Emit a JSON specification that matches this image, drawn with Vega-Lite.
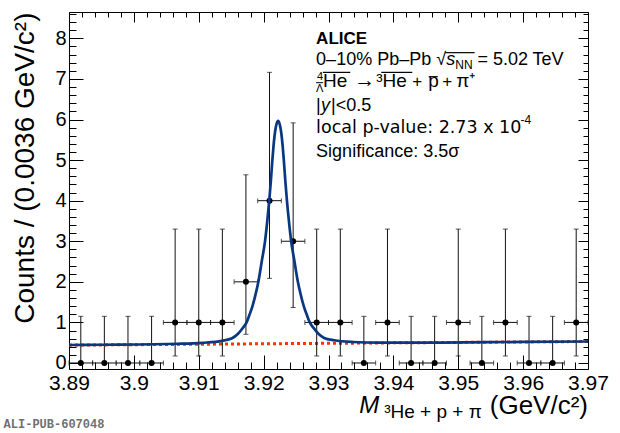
{
  "$schema": "https://vega.github.io/schema/vega-lite/v6.json",
  "width": 519,
  "height": 357,
  "autosize": "none",
  "padding": {"left": 69, "top": 12, "right": 32, "bottom": 64},
  "background": "white",
  "config": {
    "view": {"stroke": "black", "strokeWidth": 1},
    "font": "Liberation Sans",
    "axis": {
      "domain": false,
      "grid": false,
      "labelFont": "Liberation Sans",
      "labelFontSize": 20,
      "labelColor": "black",
      "tickColor": "black",
      "tickWidth": 1,
      "titleFont": "Liberation Sans",
      "titleFontWeight": "normal",
      "titleColor": "black"
    }
  },
  "datasets": {
    "pts": [
      {"x": 3.89182, "xlo": 3.89, "xhi": 3.89364, "n": 0, "lo": 0, "hi": 1.15},
      {"x": 3.89545, "xlo": 3.89364, "xhi": 3.89727, "n": 0, "lo": 0, "hi": 1.15},
      {"x": 3.89909, "xlo": 3.89727, "xhi": 3.90091, "n": 0, "lo": 0, "hi": 1.15},
      {"x": 3.90273, "xlo": 3.90091, "xhi": 3.90455, "n": 0, "lo": 0, "hi": 1.15},
      {"x": 3.90636, "xlo": 3.90455, "xhi": 3.90818, "n": 1, "lo": 0.173, "hi": 3.3},
      {"x": 3.91, "xlo": 3.90818, "xhi": 3.91182, "n": 1, "lo": 0.173, "hi": 3.3},
      {"x": 3.91364, "xlo": 3.91182, "xhi": 3.91545, "n": 1, "lo": 0.173, "hi": 3.3},
      {"x": 3.91727, "xlo": 3.91545, "xhi": 3.91909, "n": 2, "lo": 0.708, "hi": 4.638},
      {"x": 3.92091, "xlo": 3.91909, "xhi": 3.92273, "n": 4, "lo": 2.086, "hi": 7.163},
      {"x": 3.92455, "xlo": 3.92273, "xhi": 3.92636, "n": 3, "lo": 1.367, "hi": 5.918},
      {"x": 3.92818, "xlo": 3.92636, "xhi": 3.93, "n": 1, "lo": 0.173, "hi": 3.3},
      {"x": 3.93182, "xlo": 3.93, "xhi": 3.93364, "n": 1, "lo": 0.173, "hi": 3.3},
      {"x": 3.93545, "xlo": 3.93364, "xhi": 3.93727, "n": 0, "lo": 0, "hi": 1.15},
      {"x": 3.93909, "xlo": 3.93727, "xhi": 3.94091, "n": 1, "lo": 0.173, "hi": 3.3},
      {"x": 3.94273, "xlo": 3.94091, "xhi": 3.94455, "n": 0, "lo": 0, "hi": 1.15},
      {"x": 3.94636, "xlo": 3.94455, "xhi": 3.94818, "n": 0, "lo": 0, "hi": 1.15},
      {"x": 3.95, "xlo": 3.94818, "xhi": 3.95182, "n": 1, "lo": 0.173, "hi": 3.3},
      {"x": 3.95364, "xlo": 3.95182, "xhi": 3.95545, "n": 0, "lo": 0, "hi": 1.15},
      {"x": 3.95727, "xlo": 3.95545, "xhi": 3.95909, "n": 1, "lo": 0.173, "hi": 3.3},
      {"x": 3.96091, "xlo": 3.95909, "xhi": 3.96273, "n": 0, "lo": 0, "hi": 1.15},
      {"x": 3.96455, "xlo": 3.96273, "xhi": 3.96636, "n": 0, "lo": 0, "hi": 1.15},
      {"x": 3.96818, "xlo": 3.96636, "xhi": 3.97, "n": 1, "lo": 0.173, "hi": 3.3}
    ],
    "fit": [
      {"x": 3.89, "y": 0.443},
      {"x": 3.895, "y": 0.45},
      {"x": 3.90683, "y": 0.474},
      {"x": 3.91063, "y": 0.498},
      {"x": 3.91358, "y": 0.546},
      {"x": 3.91513, "y": 0.608},
      {"x": 3.91605, "y": 0.719},
      {"x": 3.91673, "y": 0.85},
      {"x": 3.91737, "y": 1.001},
      {"x": 3.91778, "y": 1.171},
      {"x": 3.91825, "y": 1.382},
      {"x": 3.91873, "y": 1.672},
      {"x": 3.91919, "y": 2.003},
      {"x": 3.91973, "y": 2.523},
      {"x": 3.92022, "y": 3.004},
      {"x": 3.92058, "y": 3.524},
      {"x": 3.92087, "y": 4.005},
      {"x": 3.92111, "y": 4.475},
      {"x": 3.92135, "y": 5.005},
      {"x": 3.92153, "y": 5.355},
      {"x": 3.92177, "y": 5.705},
      {"x": 3.922, "y": 5.896},
      {"x": 3.92223, "y": 5.966},
      {"x": 3.92246, "y": 5.896},
      {"x": 3.92269, "y": 5.706},
      {"x": 3.92293, "y": 5.356},
      {"x": 3.92311, "y": 5.006},
      {"x": 3.92335, "y": 4.476},
      {"x": 3.92359, "y": 4.006},
      {"x": 3.92388, "y": 3.526},
      {"x": 3.92424, "y": 3.006},
      {"x": 3.92473, "y": 2.526},
      {"x": 3.92527, "y": 2.006},
      {"x": 3.92573, "y": 1.677},
      {"x": 3.92621, "y": 1.387},
      {"x": 3.92668, "y": 1.177},
      {"x": 3.92709, "y": 1.007},
      {"x": 3.92773, "y": 0.858},
      {"x": 3.92841, "y": 0.727},
      {"x": 3.92933, "y": 0.617},
      {"x": 3.93088, "y": 0.56},
      {"x": 3.93383, "y": 0.518},
      {"x": 3.93763, "y": 0.502},
      {"x": 3.94723, "y": 0.503},
      {"x": 3.96, "y": 0.52},
      {"x": 3.97, "y": 0.53}
    ],
    "bkg": [
      {"x": 3.89, "y": 0.44},
      {"x": 3.97, "y": 0.53}
    ]
  },
  "resolve": {"axis": {"x": "independent", "y": "independent"}},
  "layer": [
    {
      "data": {"name": "pts"},
      "mark": {"type": "point", "opacity": 0},
      "encoding": {
        "x": {
          "field": "x", "type": "quantitative",
          "scale": {"domain": [3.89, 3.97], "nice": false, "zero": false},
          "axis": {"orient": "bottom", "values": [3.89, 3.9, 3.91, 3.92, 3.93, 3.94, 3.95, 3.96, 3.97], "format": ".2~f", "tickSize": -14, "labelPadding": 17, "labelFontSize": 21, "labelFlush": false, "labelOverlap": false, "labelBound": false, "title": null}
        },
        "y": {
          "field": "n", "type": "quantitative",
          "scale": {"domain": [-0.148, 8.65], "nice": false, "zero": false},
          "axis": {"orient": "left", "values": [0, 1, 2, 3, 4, 5, 6, 7, 8], "format": "d", "tickSize": -14, "labelPadding": 17, "labelOverlap": false, "title": "Counts / (0.0036 GeV/c²)", "titleFontSize": 28, "titleAnchor": "end", "titlePadding": 15}
        }
      }
    },
    {
      "data": {"name": "pts"},
      "mark": {"type": "point", "opacity": 0},
      "encoding": {
        "x": {"field": "x", "type": "quantitative", "axis": {"orient": "bottom", "values": [3.892, 3.894, 3.896, 3.898, 3.902, 3.904, 3.906, 3.908, 3.912, 3.914, 3.916, 3.918, 3.922, 3.924, 3.926, 3.928, 3.932, 3.934, 3.936, 3.938, 3.942, 3.944, 3.946, 3.948, 3.952, 3.954, 3.956, 3.958, 3.962, 3.964, 3.966, 3.968], "tickSize": -7, "labels": false, "title": null}},
        "y": {"field": "n", "type": "quantitative", "axis": {"orient": "left", "values": [0.2, 0.4, 0.6, 0.8, 1.2, 1.4, 1.6, 1.8, 2.2, 2.4, 2.6, 2.8, 3.2, 3.4, 3.6, 3.8, 4.2, 4.4, 4.6, 4.8, 5.2, 5.4, 5.6, 5.8, 6.2, 6.4, 6.6, 6.8, 7.2, 7.4, 7.6, 7.8, 8.2, 8.4, 8.6], "tickSize": -7, "labels": false, "title": null}}
      }
    },
    {
      "data": {"name": "pts"},
      "mark": {"type": "point", "opacity": 0},
      "encoding": {
        "x": {"field": "x", "type": "quantitative", "axis": {"orient": "top", "values": [3.89, 3.9, 3.91, 3.92, 3.93, 3.94, 3.95, 3.96, 3.97], "tickSize": -10, "labels": false, "title": null}},
        "y": {"field": "n", "type": "quantitative", "axis": {"orient": "right", "values": [0, 1, 2, 3, 4, 5, 6, 7, 8], "tickSize": -10, "labels": false, "title": null}}
      }
    },
    {
      "data": {"name": "pts"},
      "mark": {"type": "point", "opacity": 0},
      "encoding": {
        "x": {"field": "x", "type": "quantitative", "axis": {"orient": "top", "values": [3.892, 3.894, 3.896, 3.898, 3.902, 3.904, 3.906, 3.908, 3.912, 3.914, 3.916, 3.918, 3.922, 3.924, 3.926, 3.928, 3.932, 3.934, 3.936, 3.938, 3.942, 3.944, 3.946, 3.948, 3.952, 3.954, 3.956, 3.958, 3.962, 3.964, 3.966, 3.968], "tickSize": -5, "labels": false, "title": null}},
        "y": {"field": "n", "type": "quantitative", "axis": {"orient": "right", "values": [0.2, 0.4, 0.6, 0.8, 1.2, 1.4, 1.6, 1.8, 2.2, 2.4, 2.6, 2.8, 3.2, 3.4, 3.6, 3.8, 4.2, 4.4, 4.6, 4.8, 5.2, 5.4, 5.6, 5.8, 6.2, 6.4, 6.6, 6.8, 7.2, 7.4, 7.6, 7.8, 8.2, 8.4, 8.6], "tickSize": -5, "labels": false, "title": null}}
      }
    },
    {
      "data": {"name": "bkg"},
      "mark": {"type": "line", "color": "#ff3300", "strokeWidth": 3, "strokeDash": [3, 3]},
      "encoding": {
        "x": {"field": "x", "type": "quantitative", "axis": null},
        "y": {"field": "y", "type": "quantitative", "axis": null}
      }
    },
    {
      "data": {"name": "pts"},
      "mark": {"type": "errorbar", "color": "#111111", "thickness": 1, "ticks": {"size": 5}},
      "encoding": {
        "x": {"field": "x", "type": "quantitative", "axis": null},
        "y": {"field": "lo", "type": "quantitative", "axis": null},
        "y2": {"field": "hi"}
      }
    },
    {
      "data": {"name": "pts"},
      "mark": {"type": "errorbar", "color": "#111111", "thickness": 1, "ticks": {"size": 5}},
      "encoding": {
        "y": {"field": "n", "type": "quantitative", "axis": null},
        "x": {"field": "xlo", "type": "quantitative", "axis": null},
        "x2": {"field": "xhi"}
      }
    },
    {
      "data": {"name": "pts"},
      "mark": {"type": "circle", "color": "black", "opacity": 1, "size": 36},
      "encoding": {
        "x": {"field": "x", "type": "quantitative", "axis": null},
        "y": {"field": "n", "type": "quantitative", "axis": null}
      }
    },
    {
      "data": {"name": "fit"},
      "mark": {"type": "line", "color": "#0a3880", "strokeWidth": 2.7, "interpolate": "monotone"},
      "encoding": {
        "x": {"field": "x", "type": "quantitative", "axis": null},
        "y": {"field": "y", "type": "quantitative", "axis": null}
      }
    },
    {
      "data": {"values": [{}]},
      "mark": {"type": "text", "text": "ALICE", "font": "Liberation Sans", "fontWeight": "bold", "fontSize": 17, "align": "left", "baseline": "alphabetic"},
      "encoding": {"x": {"datum": 3.92809, "type": "quantitative", "axis": null}, "y": {"datum": 7.869, "type": "quantitative", "axis": null}}
    },
    {
      "data": {"values": [{}]},
      "mark": {"type": "text", "text": "0–10% Pb–Pb", "font": "Liberation Sans", "fontSize": 18, "align": "left", "baseline": "alphabetic"},
      "encoding": {"x": {"datum": 3.92809, "type": "quantitative", "axis": null}, "y": {"datum": 7.339, "type": "quantitative", "axis": null}}
    },
    {
      "data": {"values": [{}]},
      "mark": {"type": "text", "text": "√", "font": "Liberation Sans", "fontSize": 18, "align": "left", "baseline": "alphabetic"},
      "encoding": {"x": {"datum": 3.94662, "type": "quantitative", "axis": null}, "y": {"datum": 7.339, "type": "quantitative", "axis": null}}
    },
    {
      "data": {"values": [{}]},
      "mark": {"type": "rule", "color": "black", "strokeWidth": 1.2},
      "encoding": {"x": {"datum": 3.948, "type": "quantitative", "axis": null}, "x2": {"datum": 3.95252}, "y": {"datum": 7.648, "type": "quantitative", "axis": null}}
    },
    {
      "data": {"values": [{}]},
      "mark": {"type": "text", "text": "s", "font": "Liberation Sans", "fontStyle": "italic", "fontSize": 18, "align": "left", "baseline": "alphabetic"},
      "encoding": {"x": {"datum": 3.94816, "type": "quantitative", "axis": null}, "y": {"datum": 7.339, "type": "quantitative", "axis": null}}
    },
    {
      "data": {"values": [{}]},
      "mark": {"type": "text", "text": "NN", "font": "Liberation Sans", "fontSize": 12, "align": "left", "baseline": "alphabetic"},
      "encoding": {"x": {"datum": 3.94955, "type": "quantitative", "axis": null}, "y": {"datum": 7.253, "type": "quantitative", "axis": null}}
    },
    {
      "data": {"values": [{}]},
      "mark": {"type": "text", "text": "= 5.02 TeV", "font": "Liberation Sans", "fontSize": 18, "align": "left", "baseline": "alphabetic"},
      "encoding": {"x": {"datum": 3.95295, "type": "quantitative", "axis": null}, "y": {"datum": 7.339, "type": "quantitative", "axis": null}}
    },
    {
      "data": {"values": [{}]},
      "mark": {"type": "text", "text": "4", "font": "Liberation Sans", "fontSize": 11, "align": "left", "baseline": "alphabetic"},
      "encoding": {"x": {"datum": 3.92824, "type": "quantitative", "axis": null}, "y": {"datum": 6.98, "type": "quantitative", "axis": null}}
    },
    {
      "data": {"values": [{}]},
      "mark": {"type": "text", "text": "Λ", "font": "Liberation Sans", "fontSize": 11, "align": "left", "baseline": "alphabetic"},
      "encoding": {"x": {"datum": 3.92809, "type": "quantitative", "axis": null}, "y": {"datum": 6.686, "type": "quantitative", "axis": null}}
    },
    {
      "data": {"values": [{}]},
      "mark": {"type": "rule", "color": "black", "strokeWidth": 1},
      "encoding": {"x": {"datum": 3.92809, "type": "quantitative", "axis": null}, "x2": {"datum": 3.92917}, "y": {"datum": 6.908, "type": "quantitative", "axis": null}}
    },
    {
      "data": {"values": [{}]},
      "mark": {"type": "text", "text": "He", "font": "Liberation Sans", "fontSize": 19, "align": "left", "baseline": "alphabetic"},
      "encoding": {"x": {"datum": 3.92914, "type": "quantitative", "axis": null}, "y": {"datum": 6.802, "type": "quantitative", "axis": null}}
    },
    {
      "data": {"values": [{}]},
      "mark": {"type": "rule", "color": "black", "strokeWidth": 1.2},
      "encoding": {"x": {"datum": 3.92914, "type": "quantitative", "axis": null}, "x2": {"datum": 3.93335}, "y": {"datum": 7.162, "type": "quantitative", "axis": null}}
    },
    {
      "data": {"values": [{}]},
      "mark": {"type": "text", "text": "→", "font": "Liberation Sans", "fontSize": 21, "align": "left", "baseline": "alphabetic"},
      "encoding": {"x": {"datum": 3.93396, "type": "quantitative", "axis": null}, "y": {"datum": 6.802, "type": "quantitative", "axis": null}}
    },
    {
      "data": {"values": [{}]},
      "mark": {"type": "text", "text": "³He", "font": "Liberation Sans", "fontSize": 19, "align": "left", "baseline": "alphabetic"},
      "encoding": {"x": {"datum": 3.93735, "type": "quantitative", "axis": null}, "y": {"datum": 6.802, "type": "quantitative", "axis": null}}
    },
    {
      "data": {"values": [{}]},
      "mark": {"type": "rule", "color": "black", "strokeWidth": 1.2},
      "encoding": {"x": {"datum": 3.93813, "type": "quantitative", "axis": null}, "x2": {"datum": 3.94292}, "y": {"datum": 7.162, "type": "quantitative", "axis": null}}
    },
    {
      "data": {"values": [{}]},
      "mark": {"type": "text", "text": "+", "font": "Liberation Sans", "fontSize": 17, "align": "left", "baseline": "alphabetic"},
      "encoding": {"x": {"datum": 3.94291, "type": "quantitative", "axis": null}, "y": {"datum": 6.802, "type": "quantitative", "axis": null}}
    },
    {
      "data": {"values": [{}]},
      "mark": {"type": "text", "text": "p", "font": "Liberation Sans", "fontSize": 19, "align": "left", "baseline": "alphabetic"},
      "encoding": {"x": {"datum": 3.94538, "type": "quantitative", "axis": null}, "y": {"datum": 6.802, "type": "quantitative", "axis": null}}
    },
    {
      "data": {"values": [{}]},
      "mark": {"type": "rule", "color": "black", "strokeWidth": 1.2},
      "encoding": {"x": {"datum": 3.94545, "type": "quantitative", "axis": null}, "x2": {"datum": 3.94685}, "y": {"datum": 7.056, "type": "quantitative", "axis": null}}
    },
    {
      "data": {"values": [{}]},
      "mark": {"type": "text", "text": "+", "font": "Liberation Sans", "fontSize": 17, "align": "left", "baseline": "alphabetic"},
      "encoding": {"x": {"datum": 3.94755, "type": "quantitative", "axis": null}, "y": {"datum": 6.802, "type": "quantitative", "axis": null}}
    },
    {
      "data": {"values": [{}]},
      "mark": {"type": "text", "text": "π⁺", "font": "Liberation Sans", "fontSize": 19, "align": "left", "baseline": "alphabetic"},
      "encoding": {"x": {"datum": 3.9497, "type": "quantitative", "axis": null}, "y": {"datum": 6.802, "type": "quantitative", "axis": null}}
    },
    {
      "data": {"values": [{}]},
      "mark": {"type": "text", "text": "|", "font": "Liberation Sans", "fontSize": 18, "align": "left", "baseline": "alphabetic"},
      "encoding": {"x": {"datum": 3.92809, "type": "quantitative", "axis": null}, "y": {"datum": 6.201, "type": "quantitative", "axis": null}}
    },
    {
      "data": {"values": [{}]},
      "mark": {"type": "text", "text": "y", "font": "Liberation Sans", "fontStyle": "italic", "fontSize": 18, "align": "left", "baseline": "alphabetic"},
      "encoding": {"x": {"datum": 3.92886, "type": "quantitative", "axis": null}, "y": {"datum": 6.201, "type": "quantitative", "axis": null}}
    },
    {
      "data": {"values": [{}]},
      "mark": {"type": "text", "text": "|<0.5", "font": "Liberation Sans", "fontSize": 18, "align": "left", "baseline": "alphabetic"},
      "encoding": {"x": {"datum": 3.9304, "type": "quantitative", "axis": null}, "y": {"datum": 6.201, "type": "quantitative", "axis": null}}
    },
    {
      "data": {"values": [{}]},
      "mark": {"type": "text", "text": "local p-value: 2.73 x 10", "font": "DejaVu Sans", "fontSize": 17.5, "align": "left", "baseline": "alphabetic"},
      "encoding": {"x": {"datum": 3.92809, "type": "quantitative", "axis": null}, "y": {"datum": 5.667, "type": "quantitative", "axis": null}}
    },
    {
      "data": {"values": [{}]},
      "mark": {"type": "text", "text": "-4", "font": "Liberation Sans", "fontSize": 12, "align": "left", "baseline": "alphabetic"},
      "encoding": {"x": {"datum": 3.95959, "type": "quantitative", "axis": null}, "y": {"datum": 5.898, "type": "quantitative", "axis": null}}
    },
    {
      "data": {"values": [{}]},
      "mark": {"type": "text", "text": "Significance: 3.5σ", "font": "Liberation Sans", "fontSize": 18, "align": "left", "baseline": "alphabetic"},
      "encoding": {"x": {"datum": 3.92809, "type": "quantitative", "axis": null}, "y": {"datum": 5.067, "type": "quantitative", "axis": null}}
    },
    {
      "data": {"values": [{}]},
      "mark": {"type": "text", "text": "M", "font": "Liberation Sans", "fontStyle": "italic", "fontSize": 24, "align": "left", "baseline": "alphabetic"},
      "encoding": {"x": {"datum": 3.93473, "type": "quantitative", "axis": null}, "y": {"datum": -1.232, "type": "quantitative", "axis": null}}
    },
    {
      "data": {"values": [{}]},
      "mark": {"type": "text", "text": "³He + p + π", "font": "Liberation Sans", "fontSize": 19, "align": "left", "baseline": "alphabetic"},
      "encoding": {"x": {"datum": 3.93859, "type": "quantitative", "axis": null}, "y": {"datum": -1.356, "type": "quantitative", "axis": null}}
    },
    {
      "data": {"values": [{}]},
      "mark": {"type": "text", "text": "(GeV/c²)", "font": "Liberation Sans", "fontSize": 26, "align": "right", "baseline": "alphabetic"},
      "encoding": {"x": {"datum": 3.97, "type": "quantitative", "axis": null}, "y": {"datum": -1.25, "type": "quantitative", "axis": null}}
    },
    {
      "data": {"values": [{}]},
      "mark": {"type": "text", "text": "ALI-PUB-607048", "font": "Liberation Mono", "fontWeight": "bold", "fontSize": 12, "color": "#707070", "align": "left", "baseline": "alphabetic"},
      "encoding": {"x": {"datum": 3.87992, "type": "quantitative", "axis": null}, "y": {"datum": -1.595, "type": "quantitative", "axis": null}}
    }
  ]
}
